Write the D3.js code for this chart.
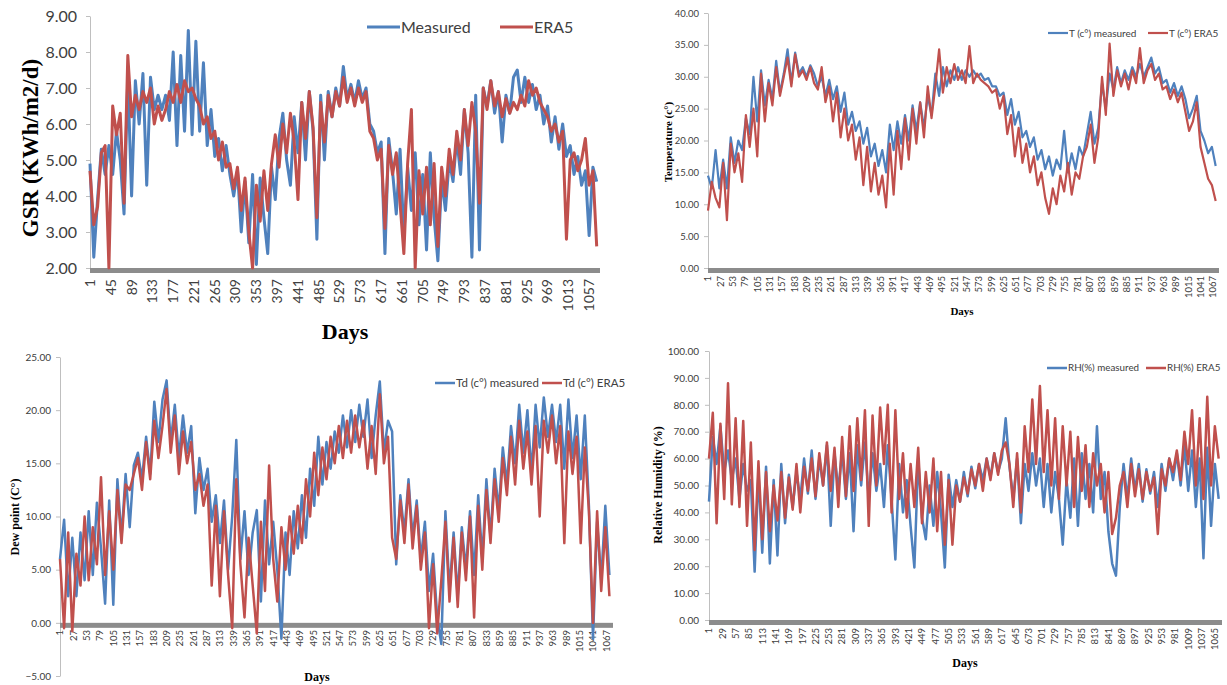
<!DOCTYPE html>
<html>
<head>
<meta charset="UTF-8">
<title>Measured vs ERA5</title>
<script src="https://cdn.jsdelivr.net/npm/d3@7"></script>
<style>
  body { margin: 0; background: #fff; }
  svg { display: block; }
</style>
</head>
<body>
<svg id="chart" width="1227" height="685"></svg>
<script>
// values, one sample every 8 days (day 1, 9, 17, ...)
var sampleStep = 8;

var gsrMeasured = [4.9,2.3,3.9,5.3,4.6,5.4,4.6,5.8,5.0,3.5, 7.3,4.0,7.2,6.0,7.4,4.3,7.3,6.4,6.8,6.4,
  6.8,6.1,8.0,5.4,7.9,5.8,8.6,5.7,8.3,5.8, 7.7,5.4,6.4,5.1,5.6,4.7,5.4,4.6,4.0,4.7,
  3.0,4.4,2.7,4.6,2.1,4.5,3.4,2.4,4.8,3.9, 5.6,6.3,5.0,4.3,6.2,5.2,6.6,5.0,6.9,5.8,
  2.8,6.8,5.0,6.9,6.2,7.0,6.5,7.6,6.7,7.1, 6.6,7.2,6.7,7.0,6.0,5.8,5.2,5.5,2.4,5.6,
  4.7,3.5,5.3,2.9,4.8,3.6,5.2,3.2,4.6,2.5, 5.2,3.4,2.2,4.5,3.6,5.0,4.4,5.6,4.6,6.4,
  5.2,2.3,6.8,2.5,7.0,6.5,7.2,6.3,6.9,5.5, 6.8,6.3,7.3,7.5,6.6,7.3,6.6,7.1,6.4,6.8,
  6.0,6.5,5.5,6.2,5.3,6.0,5.1,5.4,4.6,5.1, 4.3,4.7,2.9,4.8,4.4];
var gsrEra5 = [4.7,3.2,3.7,5.2,5.4,2.0,6.5,5.7,6.3,3.8, 7.9,6.2,6.8,6.4,6.9,6.6,7.0,6.0,6.5,6.1,
  6.4,6.9,6.6,7.1,6.6,7.2,6.9,7.0,6.7,6.5, 6.0,6.2,5.6,5.8,5.0,5.5,4.8,4.9,4.2,4.8,
  3.6,4.5,3.0,2.0,4.3,3.3,4.7,3.6,4.9,5.7, 4.8,6.0,5.2,6.3,5.5,3.9,6.6,5.6,6.9,5.9,
  3.4,6.6,5.5,6.8,6.2,6.9,6.5,7.3,6.6,7.0, 6.5,7.0,6.6,6.9,5.8,5.6,5.0,5.3,3.1,5.4,
  4.6,5.2,3.8,2.4,4.9,6.4,2.0,4.7,3.5,4.8, 3.2,4.9,2.6,4.8,4.0,5.3,4.6,5.8,5.0,6.4,
  5.4,6.6,5.8,3.8,7.0,6.4,7.2,6.5,6.9,6.2, 6.7,6.3,6.6,6.4,6.8,6.5,7.2,6.8,7.0,6.6,
  6.4,6.2,5.8,6.0,5.5,5.8,2.8,5.0,5.2,4.7, 5.0,5.6,4.3,4.7,2.6];

var tempMeasured = [14.5,12.5,18.5,12.5,17.0,12.5,20.5,16.5,20.0,18.5, 23.5,21.0,30.0,23.0,31.0,25.5,29.5,26.5,32.5,27.5,
  30.5,34.3,29.0,33.8,30.5,31.5,30.0,31.8,30.5,28.5, 30.0,27.0,29.5,26.5,28.5,24.5,27.5,22.5,24.5,21.5,
  23.0,19.5,22.0,17.5,19.5,16.0,18.5,15.0,22.5,18.5, 23.0,19.5,24.0,20.0,25.5,21.5,26.0,22.0,27.0,24.0,
  30.5,27.0,31.5,28.5,31.0,29.5,31.5,29.5,31.0,30.0, 31.0,30.0,30.5,29.5,29.8,28.5,28.5,27.0,27.5,24.0,
  26.5,22.5,24.5,20.5,21.5,19.0,20.5,17.0,18.5,15.5, 17.5,14.5,17.0,15.5,21.5,15.0,18.0,15.5,19.0,17.5,
  21.0,24.5,19.5,22.0,29.0,25.0,30.5,28.0,31.5,29.0, 31.0,29.5,31.5,30.0,32.0,30.0,31.5,33.0,30.5,31.5,
  29.0,29.5,27.5,29.0,27.0,28.5,26.5,23.5,25.0,27.0, 21.5,20.0,18.0,19.0,16.0];
var tempEra5 = [9.0,13.5,11.0,9.5,16.5,7.5,19.5,15.0,18.0,13.5, 24.0,19.0,25.0,17.5,30.5,23.0,29.0,25.5,31.5,27.0,
  30.0,33.0,28.5,33.5,30.0,31.0,29.5,31.5,29.0,28.0, 31.5,26.0,28.5,23.0,27.5,20.5,25.0,20.0,22.5,17.0,
  20.5,13.0,19.0,12.0,16.5,11.5,14.5,9.5,19.5,11.5, 21.5,15.5,23.5,17.0,25.0,19.5,26.0,20.5,28.5,23.5,
  28.5,34.3,27.5,31.5,29.0,32.0,29.5,31.0,29.0,34.8, 29.0,30.5,29.5,29.0,28.5,27.5,28.0,25.0,27.0,21.0,
  24.0,17.5,22.0,16.5,19.5,15.0,17.5,13.0,15.0,11.0, 8.5,12.5,10.0,14.5,12.0,16.5,11.5,15.0,14.0,17.5,
  19.0,22.5,16.5,20.5,30.0,24.0,35.2,27.0,31.0,28.5, 30.5,28.0,31.0,29.0,34.5,29.0,31.0,32.0,29.5,30.5,
  28.0,28.5,26.5,28.0,26.0,27.5,24.5,21.5,23.0,26.0, 19.0,16.5,14.0,13.0,10.5];

var dewMeasured = [6.0,9.7,2.5,8.0,2.5,8.5,4.0,10.5,4.5,11.3, 7.0,1.8,11.5,1.7,13.5,8.0,14.0,9.0,14.8,16.0,
  13.5,17.5,14.0,20.8,17.0,21.0,22.8,17.0,20.5,15.5, 19.5,16.0,18.5,10.3,15.5,12.5,14.5,9.5,12.0,7.5,
  11.5,5.0,10.0,17.2,6.0,10.5,4.5,8.5,10.6,2.0, 11.5,5.5,9.5,5.0,-1.5,8.5,4.5,10.5,7.0,12.0,
  8.0,14.5,11.0,17.5,13.0,17.0,14.5,18.0,16.0,19.5, 16.5,20.0,17.0,20.5,17.5,21.0,15.5,19.5,22.7,16.0,
  19.0,18.0,5.5,12.0,8.5,13.5,8.0,11.5,6.0,9.5, 3.0,6.5,0.5,-2.0,10.5,3.0,8.5,2.5,9.0,5.0,
  10.5,4.5,12.0,6.0,13.5,8.0,14.5,10.5,16.5,13.0, 18.5,15.0,20.5,16.0,20.0,14.0,20.5,16.5,21.2,17.5,
  20.5,17.0,20.5,14.5,21.0,15.5,19.5,13.5,19.5,11.0, -1.5,9.5,4.0,11.0,4.5];
var dewEra5 = [6.0,-0.5,8.5,-0.8,6.5,3.5,10.0,4.0,9.0,5.5, 13.7,4.5,10.5,5.0,12.5,7.5,13.0,12.5,14.0,15.5,
  12.5,17.0,13.5,19.0,15.5,18.5,22.0,16.0,19.5,14.0, 18.0,15.0,17.0,12.5,14.0,11.0,13.0,3.5,11.0,2.5,
  10.5,4.5,-0.5,13.5,5.5,0.5,8.0,3.5,-1.0,9.5, 3.0,14.8,6.0,2.0,9.0,5.0,10.0,6.5,11.0,7.5,
  13.5,10.0,16.0,12.0,16.5,13.5,17.5,15.0,18.5,15.5, 19.0,16.0,19.5,16.5,19.0,14.5,18.5,14.0,21.5,15.0,
  17.5,8.0,6.0,11.5,7.5,13.0,7.0,11.0,5.0,8.5, -0.5,5.5,-1.0,4.0,9.5,2.0,8.0,1.5,8.5,4.0,
  10.0,0.5,11.0,5.0,12.5,7.5,13.5,9.5,15.5,12.0, 17.5,13.0,19.0,14.5,18.0,13.0,18.5,10.0,19.0,16.0,
  19.5,15.0,18.5,7.5,18.0,14.0,17.5,7.5,16.5,10.5, 0.0,10.5,3.0,9.0,2.5];

var rhMeasured = [44,68,58,72,55,63,52,60,45,58, 48,52,18,55,25,57,21,52,24,58,
  36,54,42,55,45,60,47,63,45,60, 50,65,35,62,48,63,45,62,33,65,
  50,66,45,62,48,58,42,65,45,22.5, 58,40,52,35,19.5,60,38,30,50,35,
  55,40,19.5,54,42,52,44,55,46,57, 49,58,52,60,53,62,55,60,75,57,
  45,60,36,58,48,62,50,60,42,58, 40,55,45,28,52,38,60,35,62,45,
  58,40,72,45,55,33,21,16.5,42,58, 45,60,48,58,44,56,47,55,42,58,
  48,60,52,62,50,65,48,63,42,60, 23,64,35,58,45];
var rhEra5 = [60,77,36,73,45,88,43,75,42,74, 35,66,26,59,30,55,33,50,37,55,
  38,53,41,58,40,57,48,60,46,62, 50,66,48,64,42,68,46,72,48,75,
  52,78,35,76,50,79,58,80,40,78, 45,62,38,58,42,64,36,55,40,60,
  33,55,28,52,28,50,44,53,47,56, 50,58,48,60,52,62,54,63,66,58,
  42,62,40,72,55,82,58,87,55,78, 50,75,45,72,50,70,42,68,48,65,
  42,62,50,58,40,55,32,38,50,55, 42,58,46,56,45,55,48,53,32,56,
  50,60,55,63,52,70,58,78,50,75, 45,83,50,72,60];

var lastDay = 1080;
var BLUE = "#4f81bd", RED = "#c0504d";
var sans = "Lato, 'Open Sans', sans-serif";
var serif = "'Liberation Serif', 'DejaVu Serif', serif";

var panels = [
  { measured: gsrMeasured, era: gsrEra5, yMin: 2, yMax: 9, yStep: 1, xStep: 44,
    left: 90, right: 600, top: 16, bottom: 268, barAt: 2, pad: 9,
    yFont: 16, xFont: 14, xLabelY: 279, stroke: 3,
    yTitle: "GSR (KWh/m2/d)", yTitleX: 30, yTitleY: 148, yTitleSize: 23,
    xTitleX: 345, xTitleY: 339, xTitleSize: 22,
    legendY: 27, legendFont: 16, legendLen: 33,
    legend: [[367, "Measured"], [500, "ERA5"]] },
  { measured: tempMeasured, era: tempEra5, yMin: 0, yMax: 40, yStep: 5, xStep: 26,
    left: 708, right: 1219, top: 13, bottom: 268, barAt: 0, pad: 5,
    yFont: 9.5, xFont: 9.5, xLabelY: 276, stroke: 2.2,
    yTitle: "Temperature (c°)", yTitleX: 668, yTitleY: 142, yTitleSize: 11,
    xTitleX: 962, xTitleY: 315, xTitleSize: 11,
    legendY: 33, legendFont: 10, legendLen: 20,
    legend: [[1048, "T (c°) measured"], [1148, "T (c°) ERA5"]] },
  { measured: dewMeasured, era: dewEra5, yMin: -5, yMax: 25, yStep: 5, xStep: 26,
    left: 60, right: 613, top: 357, bottom: 676, barAt: 0, pad: 5,
    yFont: 10, xFont: 9.5, xLabelY: 630, stroke: 2.5,
    yTitle: "Dew point (C°)", yTitleX: 15, yTitleY: 517, yTitleSize: 12,
    xTitleX: 317, xTitleY: 681, xTitleSize: 12,
    legendY: 383, legendFont: 11.5, legendLen: 20,
    legend: [[435, "Td (c°) measured"], [542, "Td (c°) ERA5"]] },
  { measured: rhMeasured, era: rhEra5, yMin: 0, yMax: 100, yStep: 10, xStep: 28,
    left: 709, right: 1222, top: 351, bottom: 620, barAt: 0, pad: 6,
    yFont: 10, xFont: 9.5, xLabelY: 628, stroke: 2.5,
    yTitle: "Relative Humidity (%)", yTitleX: 658, yTitleY: 485, yTitleSize: 12,
    xTitleX: 965, xTitleY: 667, xTitleSize: 12,
    legendY: 368, legendFont: 9.8, legendLen: 20,
    legend: [[1047, "RH(%) measured"], [1146, "RH(%) ERA5"]] }
];

var svg = d3.select("#chart");
svg.append("rect").attr("width", 1227).attr("height", 685).attr("fill", "#fff");

panels.forEach(function(p) {
  var g = svg.append("g");
  var x = d3.scaleLinear().domain([1, lastDay]).range([p.left, p.right]);
  var y = d3.scaleLinear().domain([p.yMin, p.yMax]).range([p.bottom, p.top]);

  // y axis
  var yAxis = d3.axisLeft(y)
    .tickValues(d3.range(p.yMin, p.yMax + p.yStep / 2, p.yStep))
    .tickFormat(d3.format(".2f"))
    .tickSize(4).tickSizeOuter(0).tickPadding(p.pad);
  var ya = g.append("g").attr("transform", "translate(" + p.left + ",0)").call(yAxis);
  ya.select(".domain").attr("stroke", "#bfbfbf");
  ya.selectAll(".tick line").attr("stroke", "#bfbfbf");
  ya.selectAll(".tick text").attr("fill", "#404040")
    .style("font-family", sans).style("font-size", p.yFont + "px");

  // thick grey category axis
  g.append("rect")
    .attr("x", p.left).attr("y", y(p.barAt))
    .attr("width", p.right - p.left).attr("height", 5)
    .attr("fill", "#8c8c8c");

  // rotated day labels
  g.selectAll(".xl").data(d3.range(1, lastDay + 1, p.xStep)).enter()
    .append("text")
    .attr("transform", function(d) { return "translate(" + x(d) + "," + p.xLabelY + ") rotate(-90)"; })
    .attr("text-anchor", "end").attr("dy", "0.35em")
    .attr("fill", "#404040")
    .style("font-family", sans).style("font-size", p.xFont + "px")
    .text(function(d) { return d; });

  // series
  var line = d3.line()
    .x(function(d, i) { return x(1 + i * sampleStep); })
    .y(function(d) { return y(d); });
  [[p.measured, BLUE], [p.era, RED]].forEach(function(s) {
    g.append("path").datum(s[0])
      .attr("d", line)
      .attr("fill", "none").attr("stroke", s[1])
      .attr("stroke-width", p.stroke).attr("stroke-linejoin", "round");
  });

  // titles
  g.append("text")
    .attr("transform", "translate(" + p.yTitleX + "," + p.yTitleY + ") rotate(-90)")
    .attr("text-anchor", "middle").attr("dy", "0.35em")
    .style("font-family", serif).style("font-weight", "bold")
    .style("font-size", p.yTitleSize + "px")
    .text(p.yTitle);
  g.append("text")
    .attr("x", p.xTitleX).attr("y", p.xTitleY)
    .attr("text-anchor", "middle")
    .style("font-family", serif).style("font-weight", "bold")
    .style("font-size", p.xTitleSize + "px")
    .text("Days");

  // legend
  p.legend.forEach(function(item, k) {
    var col = k === 0 ? BLUE : RED;
    g.append("line")
      .attr("x1", item[0]).attr("x2", item[0] + p.legendLen)
      .attr("y1", p.legendY).attr("y2", p.legendY)
      .attr("stroke", col).attr("stroke-width", p.stroke);
    g.append("text")
      .attr("x", item[0] + p.legendLen + 1).attr("y", p.legendY)
      .attr("dy", "0.35em").attr("fill", "#404040")
      .style("font-family", sans).style("font-size", p.legendFont + "px")
      .text(item[1]);
  });
});
</script>
</body>
</html>
